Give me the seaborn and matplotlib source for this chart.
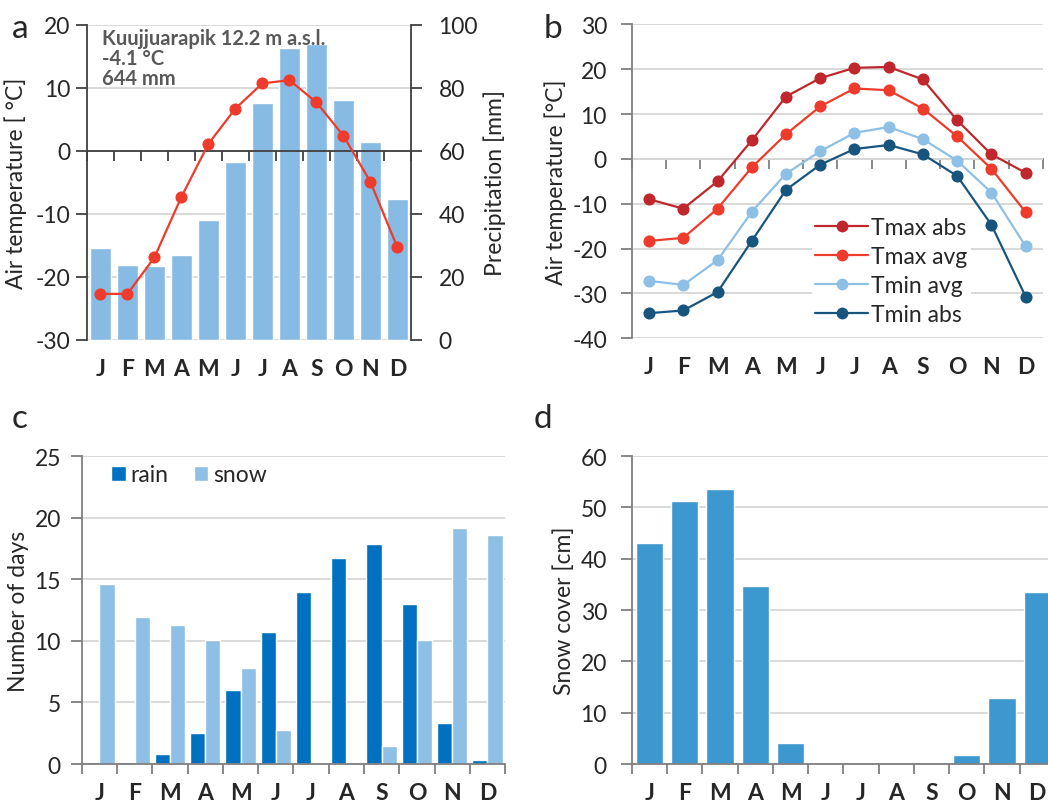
import numpy as np
import pandas as pd
import matplotlib
matplotlib.use('Agg')
import matplotlib.pyplot as plt
from matplotlib.lines import Line2D
import seaborn as sns

#%% data
months      = ['Jan','Feb','Mar','Apr','May','Jun','Jul','Aug','Sep','Oct','Nov','Dec']
month_lbl   = ['J','F','M','A','M','J','J','A','S','O','N','D']

# a: climate diagram
precip_mm   = [29.3, 23.9, 23.5, 26.9, 38.0, 56.4, 75.2, 92.5, 93.8, 76.0, 62.9, 44.7]
tmean_c     = [-22.7, -22.7, -16.9, -7.3, 1.1, 6.7, 10.7, 11.2, 7.7, 2.4, -4.9, -15.3]

# b: temperature extremes
tmax_abs    = [-9.0, -11.1, -5.0, 4.1, 13.9, 18.0, 20.3, 20.5, 17.7, 8.6, 1.0, -3.1]
tmax_avg    = [-18.3, -17.6, -11.1, -1.9, 5.5, 11.7, 15.7, 15.3, 11.2, 5.0, -2.2, -11.9]
tmin_avg    = [-27.2, -28.1, -22.6, -11.8, -3.3, 1.7, 5.8, 7.1, 4.4, -0.4, -7.5, -19.5]
tmin_abs    = [-34.4, -33.8, -29.7, -18.3, -6.9, -1.3, 2.2, 3.1, 1.0, -3.8, -14.7, -30.7]
series_b    = ['Tmax abs','Tmax avg','Tmin avg','Tmin abs']
colors_b    = ['#C0272D','#EE3B2B','#8EC0E6','#17557F']

# c: number of days with rain / snow
rain_days   = [0.2, 0.15, 0.8, 2.5, 6.0, 10.7, 14.0, 16.7, 17.9, 13.0, 3.3, 0.3]
snow_days   = [14.6, 11.9, 11.3, 10.1, 7.8, 2.8, 0.05, 0.0, 1.5, 10.1, 19.2, 18.6]

# d: snow cover
snow_cm     = [43.1, 51.2, 53.5, 34.7, 4.0, 0, 0, 0, 0, 1.75, 12.8, 33.6]

#%% style
sns.set_style('white')
plt.rcParams['font.family'] = ['Lato', 'DejaVu Sans']
plt.rcParams['axes.unicode_minus'] = False
fs          = 16.5
gridcol     = '#D9D9D9'
spinecol    = '#7F7F7F'
boundaries  = np.arange(-0.5, 12, 1)

fig = plt.figure(figsize=(10.48, 8.04), dpi=100)
ax_a = fig.add_axes([0.083, 0.576, 0.309, 0.392])
ax_b = fig.add_axes([0.603, 0.578, 0.392, 0.3905])
ax_c = fig.add_axes([0.078, 0.0485, 0.404, 0.383])
ax_d = fig.add_axes([0.603, 0.0485, 0.4036, 0.383])

def style_y(ax, col=spinecol, pad=8):
    for s in ['top','right','bottom']:
        ax.spines[s].set_visible(False)
    ax.spines['left'].set_color(col)
    ax.spines['left'].set_linewidth(1.3)
    ax.tick_params(axis='y', direction='out', length=8, width=1.3, color=col,
                   labelsize=fs, pad=pad, left=True)
    ax.yaxis.grid(True, color=gridcol, lw=1.4)
    ax.set_axisbelow(True)

def month_axis(ax, zero_frac=None, col=spinecol):
    ax.set_xlim(-0.5, 11.5)
    ax.set_xticks(range(12))
    ax.set_xticklabels(month_lbl, fontweight='bold', fontsize=fs)
    ax.tick_params(axis='x', which='major', length=0, pad=13, bottom=True)
    ax.set_xlabel('')
    if zero_frac is None:
        # spine at zero with category boundary ticks
        ax.spines['bottom'].set_visible(True)
        ax.spines['bottom'].set_color(col)
        ax.spines['bottom'].set_linewidth(1.3)
        ax.set_xticks(boundaries, minor=True)
        ax.tick_params(axis='x', which='minor', direction='out', length=7,
                       width=1.3, color=col, bottom=True)
    else:
        sec = ax.secondary_xaxis(zero_frac)
        sec.set_alignment('bottom')
        sec.set_xticks(boundaries)
        sec.set_xticklabels([])
        sec.tick_params(axis='x', direction='out', length=7, width=1.3, color=col)
        for s in sec.spines.values():
            s.set_color(col)
            s.set_linewidth(1.3)

#%% a: bars of precipitation (right axis) with mean temperature (left axis)
ax_a2 = ax_a.twinx()
sns.barplot(x=months, y=precip_mm, order=months, color='#88BBE3', saturation=1,
            width=0.78, ax=ax_a2)
ax_a2.set_ylim(0, 100)
ax_a2.set_yticks(np.arange(0, 101, 20))
ax_a2.yaxis.grid(True, color=gridcol, lw=1.4)
ax_a2.set_axisbelow(True)
for s in ['top','left','bottom']:
    ax_a2.spines[s].set_visible(False)
ax_a2.spines['right'].set_color('#404040')
ax_a2.spines['right'].set_linewidth(1.3)
ax_a2.tick_params(axis='y', direction='out', length=8, width=1.3, color='#404040',
                  labelsize=fs, pad=12, right=True)
ax_a2.set_ylabel('Precipitation [mm]', fontsize=fs, labelpad=4)

sns.pointplot(x=months, y=tmean_c, order=months, color='#EE3B2B', markers='o',
              markersize=7.5, linewidth=1.6, ax=ax_a)
ax_a.set_zorder(ax_a2.get_zorder() + 1)
ax_a.patch.set_visible(False)
style_y(ax_a, col='#404040', pad=4)
ax_a.yaxis.grid(False)
ax_a.set_ylim(-30, 20)
ax_a.set_yticks(np.arange(-30, 21, 10))
ax_a.set_ylabel('Air temperature [ °C]', fontsize=fs, labelpad=6)
month_axis(ax_a, zero_frac=0.6, col='#404040')
ax_a2.set_xlabel('')
ax_a.text(0.045, 0.99, 'Kuujjuarapik 12.2 m a.s.l.\n-4.1 °C\n644 mm', transform=ax_a.transAxes,
          ha='left', va='top', fontsize=14.5, fontweight='bold', color='#595959',
          linespacing=1.0)

#%% b: monthly temperature extremes
df_b = pd.DataFrame({'month': np.tile(months, 4),
                     'temp': np.concatenate([tmax_abs, tmax_avg, tmin_avg, tmin_abs]),
                     'series': np.repeat(series_b, 12)})
sns.pointplot(data=df_b, x='month', y='temp', hue='series', order=months,
              hue_order=series_b, palette=colors_b, markers='o', markersize=7.5,
              linewidth=1.6, dodge=False, ax=ax_b)
style_y(ax_b, pad=10)
ax_b.set_ylim(-40, 30)
ax_b.set_yticks(np.arange(-40, 31, 10))
ax_b.set_ylabel('Air temperature [°C]', fontsize=fs)
month_axis(ax_b, zero_frac=40/70)
handles = [Line2D([], [], color=c, marker='o', markersize=7.5, lw=1.6) for c in colors_b]
ax_b.legend(handles, series_b, loc='center left', bbox_to_anchor=(0.41, 0.215),
            fontsize=fs, frameon=True, facecolor='white', edgecolor='none', framealpha=1,
            handlelength=2.3, handletextpad=0.15, labelspacing=0.35, borderpad=0.15)

#%% c: days with rain and snow
df_c = pd.DataFrame({'month': np.tile(months, 2),
                     'days': np.concatenate([rain_days, snow_days]),
                     'type': np.repeat(['rain','snow'], 12)})
sns.barplot(data=df_c, x='month', y='days', hue='type', order=months,
            palette=['#0070C0','#8EC0E6'], saturation=1, width=0.86, ax=ax_c)
style_y(ax_c, pad=7)
ax_c.set_ylim(0, 25)
ax_c.set_yticks(np.arange(0, 26, 5))
ax_c.set_ylabel('Number of days', fontsize=fs)
month_axis(ax_c)
sns.move_legend(ax_c, 'upper left', bbox_to_anchor=(0.02, 1.04), ncol=2, title=None,
                frameon=False, fontsize=fs, handlelength=0.65, handleheight=0.65,
                handletextpad=0.2, columnspacing=1.1)

#%% d: snow cover
sns.barplot(x=months, y=snow_cm, order=months, color='#3D98D0', saturation=1,
            width=0.77, ax=ax_d)
style_y(ax_d, pad=10)
ax_d.set_ylim(0, 60)
ax_d.set_yticks(np.arange(0, 61, 10))
ax_d.set_ylabel('Snow cover [cm]', fontsize=fs)
month_axis(ax_d)

#%% panel letters
for lbl, x, y in [('a', 0.011, 0.953), ('b', 0.519, 0.953), ('c', 0.011, 0.468), ('d', 0.509, 0.468)]:
    fig.text(x, y, lbl, fontsize=24, va='baseline', ha='left')

fig.savefig('out.png', dpi=100)
